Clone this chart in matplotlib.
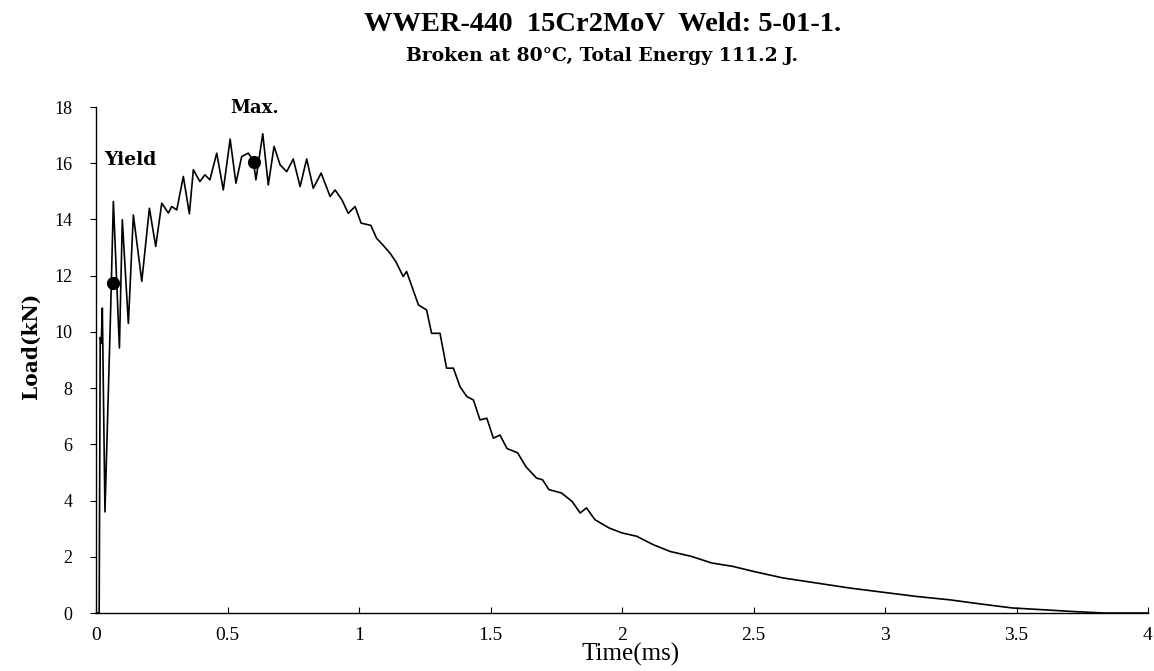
import matplotlib
matplotlib.use("Agg")
import matplotlib.pyplot as plt
import numpy as np

plt.rcParams['font.family'] = ['Liberation Serif', 'DejaVu Serif']

# instrumented Charpy trace, time in ms, load in kN
time_ms = [0, 0.012, 0.016, 0.020, 0.024, 0.034, 0.056, 0.066, 0.089, 0.100,
           0.123, 0.142, 0.174, 0.203, 0.227, 0.250, 0.275, 0.288, 0.307, 0.332,
           0.355, 0.370, 0.395, 0.414, 0.433, 0.459, 0.484, 0.510, 0.532, 0.554,
           0.579, 0.598, 0.608, 0.634, 0.655, 0.677, 0.700, 0.725, 0.750, 0.776,
           0.801, 0.826, 0.856, 0.890, 0.909, 0.935, 0.959, 0.985, 1.008, 1.045,
           1.067, 1.090, 1.118, 1.140, 1.168, 1.181, 1.226, 1.257, 1.276, 1.308,
           1.333, 1.359, 1.384, 1.410, 1.435, 1.460, 1.486, 1.511, 1.536, 1.563,
           1.603, 1.635, 1.675, 1.698, 1.722, 1.770, 1.810, 1.841, 1.865, 1.897,
           1.952, 2.000, 2.056, 2.119, 2.183, 2.262, 2.341, 2.421, 2.500, 2.611,
           2.738, 2.865, 2.992, 3.119, 3.246, 3.357, 3.484, 3.595, 3.722, 3.833,
           4.0]
load_kn = [0, 0, 9.8, 9.6, 10.85, 3.6, 10.9, 14.64, 9.43, 13.99,
           10.3, 14.16, 11.8, 14.4, 13.04, 14.58, 14.23, 14.46, 14.34, 15.53,
           14.2, 15.77, 15.35, 15.59, 15.41, 16.36, 15.05, 16.86, 15.29, 16.24,
           16.36, 16.1, 15.41, 17.05, 15.23, 16.6, 15.94, 15.7, 16.15, 15.17,
           16.15, 15.11, 15.65, 14.82, 15.05, 14.7, 14.22, 14.46, 13.87, 13.79,
           13.33, 13.1, 12.8, 12.5, 11.97, 12.15, 10.96, 10.78, 9.95, 9.95,
           8.71, 8.71, 8.05, 7.7, 7.58, 6.87, 6.93, 6.22, 6.33, 5.85,
           5.7, 5.2, 4.8, 4.74, 4.39, 4.27, 3.97, 3.56, 3.74, 3.32,
           3.02, 2.85, 2.73, 2.43, 2.19, 2.02, 1.78, 1.66, 1.48, 1.25,
           1.07, 0.89, 0.74, 0.59, 0.47, 0.33, 0.18, 0.12, 0.05, 0.0,
           0.0]

# characteristic points
yield_pt = (0.063, 11.75)
max_pt = (0.602, 16.05)

x_ticks = [0, 0.5, 1, 1.5, 2, 2.5, 3, 3.5, 4]
x_labels = ['0', '0.5', '1', '1.5', '2', '2.5', '3', '3.5', '4']
y_ticks = list(range(0, 19, 2))

bold_serif = ['DejaVu Serif']

fig = plt.figure(figsize=(11.54, 6.71), dpi=100)
ax = fig.add_axes([0.0832, 0.0864, 0.9116, 0.7541])

ax.plot(time_ms, load_kn, color='black', lw=1.2)
ax.plot(*yield_pt, 'o', color='black', markersize=8.5)
ax.plot(*max_pt, 'o', color='black', markersize=8.5)

ax.set_xlim(0, 4)
ax.set_ylim(0, 18)
ax.set_xticks(x_ticks)
ax.set_xticklabels(x_labels)
ax.set_yticks(y_ticks)
ax.spines['top'].set_visible(False)
ax.spines['right'].set_visible(False)
ax.spines['left'].set_linewidth(1.0)
ax.spines['bottom'].set_linewidth(1.0)
ax.tick_params(axis='x', direction='in', length=4, pad=10, labelsize=14)
ax.tick_params(axis='y', direction='out', length=4, pad=13, labelsize=13)

ax.text(0.03, 16.1, 'Yield', fontsize=13.5, fontweight='bold', va='center', family=bold_serif)
ax.text(0.51, 17.95, 'Max.', fontsize=13, fontweight='bold', va='center', family=bold_serif)

fig.text(0.522, 0.964, 'WWER-440  15Cr2MoV  Weld: 5-01-1.', ha='center', va='center',
         fontsize=20.5, fontweight='bold')
fig.text(0.522, 0.917, 'Broken at 80\u00b0C, Total Energy 111.2 J.', ha='center', va='center',
         fontsize=13.5, fontweight='bold', family=bold_serif)
fig.text(0.027, 0.485, 'Load(kN)', rotation=90, ha='center', va='center',
         fontsize=14.5, fontweight='bold', family=bold_serif)
fig.text(0.546, 0.024, 'Time(ms)', ha='center', va='center', fontsize=18)

fig.savefig('out.png', dpi=100)
